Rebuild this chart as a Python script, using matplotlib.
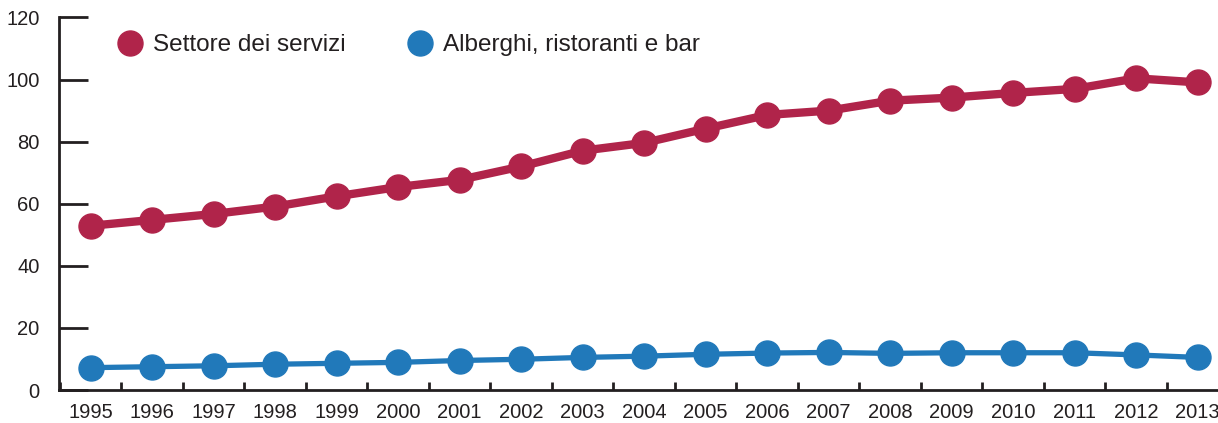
import matplotlib.pyplot as plt
from matplotlib.lines import Line2D
from matplotlib.ticker import MultipleLocator

anni = list(range(1995, 2014))
servizi = [52.9, 54.8, 56.7, 59.1, 62.4, 65.4, 67.7, 72.0, 77.1, 79.6,
           84.2, 88.6, 90.0, 93.2, 94.2, 95.7, 97.0, 100.4, 99.1]
alberghi = [7.2, 7.5, 7.8, 8.3, 8.6, 8.9, 9.5, 9.9, 10.5, 10.9,
            11.5, 11.9, 12.1, 11.8, 12.0, 12.0, 12.0, 11.3, 10.5]
etichette = ["Settore dei servizi", "Alberghi, ristoranti e bar"]

rosso = "#B0244A"
blu = "#2179BA"
scuro = "#231F20"

plt.rcParams['font.family'] = ['Liberation Sans', 'DejaVu Sans']

fig = plt.figure(figsize=(12.18, 4.23), dpi=100)
ax = fig.add_axes([59 / 1218, 33 / 423, 1 - 59 / 1218, 372.5 / 423])

ax.plot(anni, servizi, color=rosso, lw=6, marker='o', ms=18, zorder=3,
        solid_capstyle='round')
ax.plot(anni, alberghi, color=blu, lw=3.8, marker='o', ms=18, zorder=3,
        solid_capstyle='round')

ax.set_xlim(1994.485, 2013.33)
ax.set_ylim(0, 120)

for s in ['top', 'right']:
    ax.spines[s].set_visible(False)
for s in ['left', 'bottom']:
    ax.spines[s].set_color(scuro)
    ax.spines[s].set_linewidth(2)

ax.set_yticks(range(0, 121, 20))
ax.tick_params(axis='y', direction='in', length=21, width=2, color=scuro,
               labelsize=14.5, labelcolor=scuro, pad=14)
ax.set_xticks(anni)
ax.tick_params(axis='x', which='major', length=0, labelsize=14.5,
               labelcolor=scuro, pad=9)
ax.xaxis.set_minor_locator(MultipleLocator(1, offset=0.5))
ax.tick_params(axis='x', which='minor', direction='in', length=6, width=2,
               color=scuro)

maniglie = [Line2D([], [], ls='none', marker='o', ms=18, color=c) for c in (rosso, blu)]
leg = ax.legend(maniglie, etichette, loc='center left', bbox_to_anchor=(0.0505, 0.926),
                ncol=2, frameon=False, fontsize=17.5, handlelength=1.05,
                handletextpad=0.4, columnspacing=2.55, borderpad=0, borderaxespad=0)
for t in leg.get_texts():
    t.set_color(scuro)

fig.savefig("out.png", dpi=100)
